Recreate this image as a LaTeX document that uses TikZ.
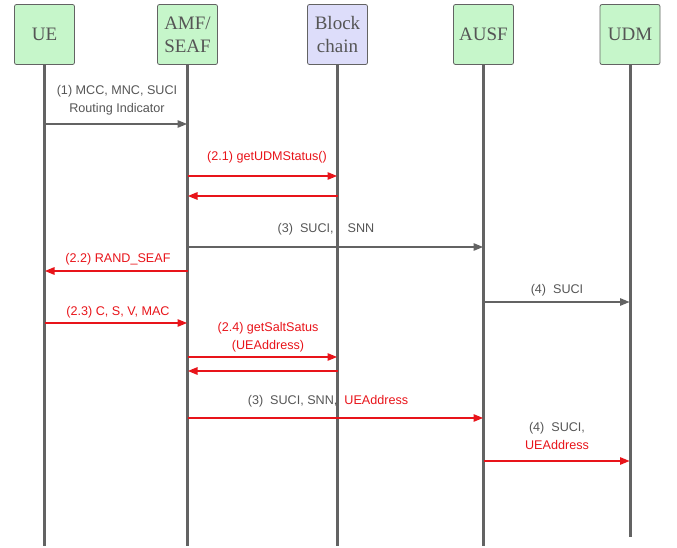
\documentclass[tikz,border=0pt]{standalone}
\usepackage{fontspec}
\setmainfont{Liberation Serif}
\newfontfamily\lblfont{Liberation Sans}
\usetikzlibrary{arrows.meta}
\definecolor{boxgreen}{HTML}{C6F6CA}
\definecolor{boxblue}{HTML}{DDDDFA}
\definecolor{linegray}{HTML}{636363}
\definecolor{txtgray}{HTML}{555555}
\definecolor{msgred}{HTML}{E8141A}
\begin{document}
\begin{tikzpicture}[x=1pt,y=-1pt,
 actor/.style={draw=linegray, line width=0.8pt, rounded corners=2pt, minimum width=60pt, minimum height=60pt, inner sep=0pt, font=\fontsize{19}{23}\selectfont, text=txtgray, align=center},
 life/.style={draw=linegray, line width=3pt},
 gmsg/.style={draw=linegray, line width=2.5pt, -{Triangle[length=10pt,width=7pt]}},
 rmsg/.style={draw=msgred, line width=2.8pt, -{Triangle[length=10pt,width=7pt]}},
 glbl/.style={font=\lblfont\fontsize{12.6}{18}\selectfont, text=txtgray, align=center, inner sep=0pt},
 rlbl/.style={glbl, text=msgred}]
\useasboundingbox (0,0) rectangle (677,548);
% actors
\node[actor, fill=boxgreen] (ue) at (44.5,34.5) {UE};
\node[actor, fill=boxgreen] (amf) at (187.5,34.5) {AMF/\\SEAF};
\node[actor, fill=boxblue] (bc) at (337.5,34.5) {Block\\chain};
\node[actor, fill=boxgreen] (ausf) at (483.5,34.5) {AUSF};
\node[actor, fill=boxgreen] (udm) at (630,34.5) {UDM};
% lifelines
\coordinate (ueend) at (ue.south |- 0,546);
\coordinate (amfend) at (amf.south |- 0,546);
\coordinate (bcend) at (bc.south |- 0,546);
\coordinate (ausfend) at (ausf.south |- 0,546);
\coordinate (udmend) at (udm.south |- 0,537);
\draw[life] (ue.south) -- (ueend);
\draw[life] (amf.south) -- (amfend);
\draw[life] (bc.south) -- (bcend);
\draw[life] (ausf.south) -- (ausfend);
\draw[life] (udm.south) -- (udmend);
% messages
\draw[gmsg] (ue.south |- 0,124) -- (amf.south |- 0,124);
\node[glbl] (l1) at (117,100) {(1) MCC, MNC, SUCI\\Routing Indicator};

\draw[rmsg] (amf.south |- 0,176) -- (bc.south |- 0,176);
\node[rlbl] (l21) at (267,157) {(2.1) getUDMStatus()};
\draw[rmsg] (bc.south |- 0,196) -- (amf.south |- 0,196);

\draw[gmsg] (amf.south |- 0,247) -- (ausf.south |- 0,247);
\node[glbl] (l3a) at (326,229) {(3)\ \ SUCI,\ \ \ \ SNN};

\draw[rmsg] (amf.south |- 0,271) -- (ue.south |- 0,271);
\node[rlbl] (l22) at (118,259) {(2.2) RAND\_SEAF};

\draw[gmsg] (ausf.south |- 0,302) -- (udm.south |- 0,302);
\node[glbl] (l4a) at (557,290) {(4)\ \ SUCI};

\draw[rmsg] (ue.south |- 0,323) -- (amf.south |- 0,323);
\node[rlbl] (l23) at (118,312) {(2.3) C, S, V, MAC};

\draw[rmsg] (amf.south |- 0,357) -- (bc.south |- 0,357);
\node[rlbl] (l24) at (268,337) {(2.4) getSaltSatus\\(UEAddress)};
\draw[rmsg] (bc.south |- 0,371) -- (amf.south |- 0,371);

\draw[rmsg] (amf.south |- 0,418) -- (ausf.south |- 0,418);
\node[glbl] (l3b) at (328,401) {(3)\ \ SUCI, SNN,\ \ \textcolor{msgred}{UEAddress}};

\draw[rmsg] (ausf.south |- 0,461) -- (udm.south |- 0,461);
\node[glbl] (l4b) at (557,436) {(4)\ \ SUCI,\\\textcolor{msgred}{UEAddress}};
\end{tikzpicture}
\end{document}
